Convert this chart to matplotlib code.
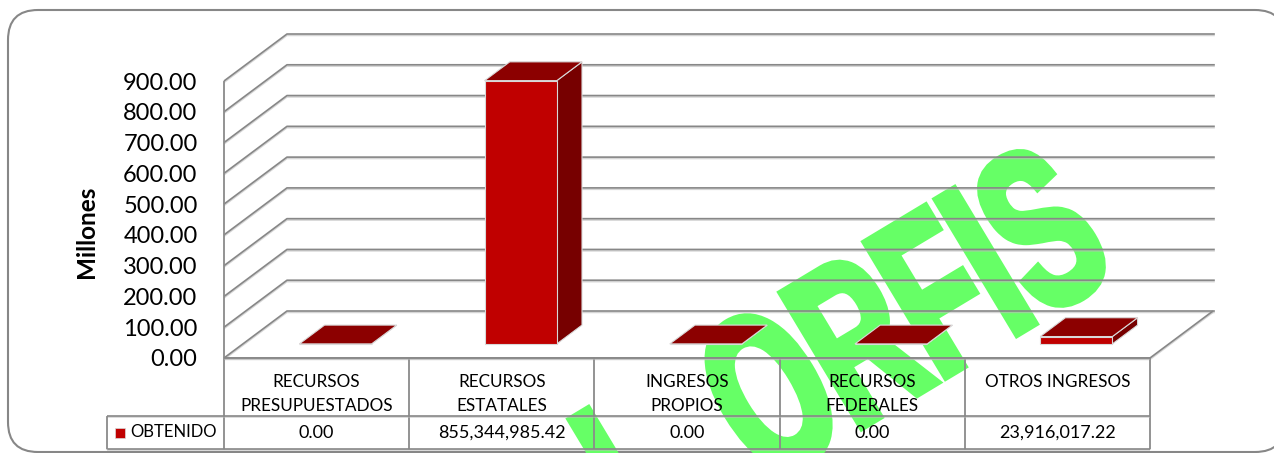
import matplotlib
matplotlib.use('Agg')
import matplotlib.pyplot as plt
from matplotlib.patches import FancyBboxPatch, Polygon, Rectangle
from matplotlib.patheffects import AbstractPathEffect, SimpleLineShadow, Normal
from matplotlib.transforms import Affine2D

plt.rcParams['font.family'] = ['Lato', 'DejaVu Sans']

categories = ['RECURSOS\nPRESUPUESTADOS', 'RECURSOS\nESTATALES', 'INGRESOS\nPROPIOS',
              'RECURSOS\nFEDERALES', 'OTROS INGRESOS']
obtenido = [0.00, 855344985.42, 0.00, 0.00, 23916017.22]
y_ticks = [0, 100, 200, 300, 400, 500, 600, 700, 800, 900]
series_name = 'OBTENIDO'
y_label = 'Millones'
watermark = 'I  \u2009ORFIS'

W, H = 1274, 453
GRID = '#878787'
FRONT, TOP, SIDE = '#C00000', '#8C0000', '#770000'
EDGE = '#D9D9D9'

# depth of the fake 3d box, in data units of the front plane
DX = 0.34
DY = 152.7


class Condensed(AbstractPathEffect):
    # squeezes the glyphs along the baseline and fattens them again with a stroke
    def __init__(self, sx, stroke):
        super().__init__()
        self.sx = sx
        self.stroke = stroke

    def draw_path(self, renderer, gc, tpath, affine, rgbFace=None):
        gc0 = renderer.new_gc()
        gc0.copy_properties(gc)
        gc0.set_linewidth(self.stroke)
        gc0.set_foreground(rgbFace)
        gc0.set_joinstyle('miter')
        renderer.draw_path(gc0, tpath, Affine2D().scale(self.sx, 1) + affine, rgbFace)
        gc0.restore()


def pt(x, y, f):
    return (x + f * DX, y + f * DY)


def axes_px(left, top, right, bottom):
    return fig.add_axes([left / W, 1 - bottom / H, (right - left) / W, (bottom - top) / H])


def gray_line(a, xs, ys, **kw):
    a.plot(xs, ys, color=GRID, lw=1.2, clip_on=False, solid_capstyle='butt',
           path_effects=[SimpleLineShadow(offset=(0, -1), shadow_color='#BBBBBB', alpha=0.6), Normal()], **kw)


fig = plt.figure(figsize=(W / 100, H / 100), dpi=100)
fig.patch.set_facecolor('white')

frame = FancyBboxPatch((8, H - 452), 1277, 442, boxstyle='round,pad=0,rounding_size=30',
                       transform=None, fc='white', ec=GRID, lw=1.5, zorder=-3)
fig.add_artist(frame)

wm = fig.text(643.5 / W, 1 - 558 / H, watermark, rotation=31, rotation_mode='anchor', ha='left', va='baseline',
              fontsize=163, fontweight='bold', family=['Liberation Sans'],
              color='#66FF66', zorder=-2)
wm.set_path_effects([Condensed(0.6, 6)])

ax = axes_px(224, 81, 1150, 358)
ax.set_xlim(0, len(categories))
ax.set_ylim(0, y_ticks[-1])
ax.patch.set_visible(False)
for s in ax.spines.values():
    s.set_visible(False)
ax.set_xticks([])
ax.set_yticks(y_ticks)
ax.set_yticklabels(['%.2f' % v for v in y_ticks], fontsize=17, color='black')
ax.tick_params(axis='y', length=0, pad=19)
ax.set_ylabel(y_label, fontsize=17.5, fontweight='bold')
ax.yaxis.set_label_coords(-0.136, 0.455)

# walls and floor
for v in y_ticks:
    pts = [pt(0, v, 0), pt(0, v, 1), pt(len(categories) + 0.01, v, 1)]
    gray_line(ax, *zip(*pts), zorder=1)
gray_line(ax, [0, 0], [0, y_ticks[-1]], zorder=1)
floor = [pt(0, 0, 0), pt(5, 0, 0), pt(5, 0, 1)]
gray_line(ax, *zip(*floor), zorder=1)

# bars
bar_w = 0.39
f0, f1 = 0.3, 0.7
for i, val in enumerate(obtenido):
    v = val / 1e6
    x0 = i + 0.5 - bar_w / 2
    x1 = i + 0.5 + bar_w / 2
    side = [pt(x1, 0, f0), pt(x1, 0, f1), pt(x1, v, f1), pt(x1, v, f0)]
    top = [pt(x0, v, f0), pt(x1, v, f0), pt(x1, v, f1), pt(x0, v, f1)]
    front = [pt(x0, 0, f0), pt(x1, 0, f0), pt(x1, v, f0), pt(x0, v, f0)]
    ax.add_patch(Polygon(side, fc=SIDE, ec=EDGE, lw=0.8, clip_on=False, zorder=3))
    ax.add_patch(Polygon(front, fc=FRONT, ec=EDGE, lw=0.8, clip_on=False, zorder=3))
    ax.add_patch(Polygon(top, fc=TOP, ec=EDGE, lw=0.8, clip_on=False, zorder=4))

# data table under the chart, y here is pixels below the floor line
tab = axes_px(107, 358, 1150, 449)
tab.set_xlim(-117 / 185.2, 5)
tab.set_ylim(91, 0)
tab.axis('off')
tab.patch.set_visible(False)
row = 58
left = tab.get_xlim()[0]
for x in range(len(categories) + 1):
    gray_line(tab, [x, x], [0, 91])
gray_line(tab, [0, 5], [0, 0])
gray_line(tab, [left, 5], [row, row])
gray_line(tab, [left, 5], [91, 91])
gray_line(tab, [left, left], [row, 91])

for i, (name, val) in enumerate(zip(categories, obtenido)):
    tab.text(i + 0.5, 16, name, ha='center', va='top', fontsize=12.3, linespacing=1.6)
    tab.text(i + 0.5, 75, '{:,.2f}'.format(val), ha='center', va='center', fontsize=13)

tab.add_patch(Rectangle((-109 / 185.2, 70), 10 / 185.2, 10, fc=FRONT, ec=EDGE, lw=0.5))
tab.text(-94 / 185.2, 74, series_name, ha='left', va='center', fontsize=12)

fig.savefig('out.png', dpi=100)
